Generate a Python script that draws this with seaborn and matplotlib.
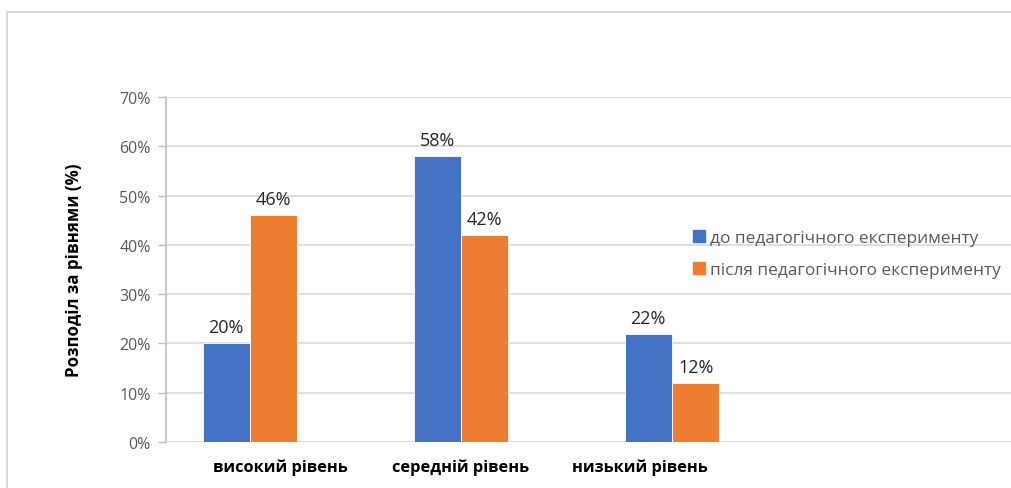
import matplotlib
matplotlib.use("Agg")
import matplotlib.pyplot as plt
import matplotlib.patches as mpatches
import matplotlib.transforms as mtransforms
from matplotlib.lines import Line2D
from matplotlib.ticker import FuncFormatter, MultipleLocator
import pandas as pd
import seaborn as sns

# Distribution of pupils by level, before and after the experiment (%)
levels = ["високий рівень", "середній рівень", "низький рівень"]
series_names = ["до педагогічного експерименту", "після педагогічного експерименту"]
before = [20, 58, 22]
after = [46, 42, 12]
y_label = "Розподіл за рівнями (%)"

colors = ["#4472C4", "#ED7D31"]

sns.set_theme(style="white")
plt.rcParams["font.family"] = ["Open Sans", "DejaVu Sans"]

df = pd.DataFrame({
    "level": levels * 2,
    "series": [series_names[0]] * 3 + [series_names[1]] * 3,
    "value": before + after,
})

fig = plt.figure(figsize=(10.12, 4.89), dpi=100)
ax = fig.add_axes([166 / 1012, 1 - 443 / 489, 1 - 166 / 1012, (443 - 98) / 489])

sns.barplot(data=df, x="level", y="value", hue="series", palette=colors,
            width=0.45, saturation=1, ax=ax, legend=False,
            edgecolor="white", linewidth=0.6)

for cont in ax.containers:
    ax.bar_label(cont, labels=[f"{v:.0f}%" for v in cont.datavalues],
                 padding=5, fontsize=13, color="#262626")

ax.set_ylim(0, 70)
ax.set_xlim((166 - 250) / 211, (1012 - 250) / 211)
ax.yaxis.set_major_locator(MultipleLocator(10))
ax.yaxis.set_major_formatter(FuncFormatter(lambda v, _: f"{v:.0f}%"))
ax.grid(axis="y", color="#d9d9d9", linewidth=1.2)
ax.set_axisbelow(True)

for side in ["top", "right", "bottom"]:
    ax.spines[side].set_visible(False)
ax.spines["left"].set_color("#bfbfbf")
ax.spines["left"].set_linewidth(1.2)

ax.tick_params(axis="y", which="major", left=True, length=6, width=1.0,
               color="#bfbfbf", labelsize=11.5, labelcolor="#595959", pad=5)
ax.tick_params(axis="x", bottom=False, labelsize=11.8, labelcolor="#000000", pad=6)

# Category labels sit slightly off-centre under their bar groups
label_shift_px = [30, 0, -32]
for lbl, dx in zip(ax.get_xticklabels(), label_shift_px):
    lbl.set_fontweight("bold")
    lbl.set_transform(lbl.get_transform() +
                      mtransforms.ScaledTranslation(dx / 100, 0, fig.dpi_scale_trans))

ax.set_xlabel("")
ax.set_ylabel(y_label, fontsize=12.2, fontweight="bold", color="#000000", labelpad=26)

handles = [Line2D([0], [0], marker="s", linestyle="none", markersize=9,
                  markerfacecolor=c, markeredgecolor=c) for c in colors]
fig.legend(handles, series_names, loc="center left",
           bbox_to_anchor=(684 / 1012, 1 - 255 / 489), frameon=False,
           fontsize=12.4, labelcolor="#595959", handletextpad=0.1,
           handlelength=1.0, labelspacing=0.95, borderaxespad=0)

# Outer chart border
fig.patches.append(mpatches.Rectangle((7 / 1012, -0.05), 1.1, 1 - 13 / 489 + 0.05,
                                      transform=fig.transFigure, fill=False,
                                      edgecolor="#d9d9d9", linewidth=1.5))

fig.savefig("out.png", dpi=100)
